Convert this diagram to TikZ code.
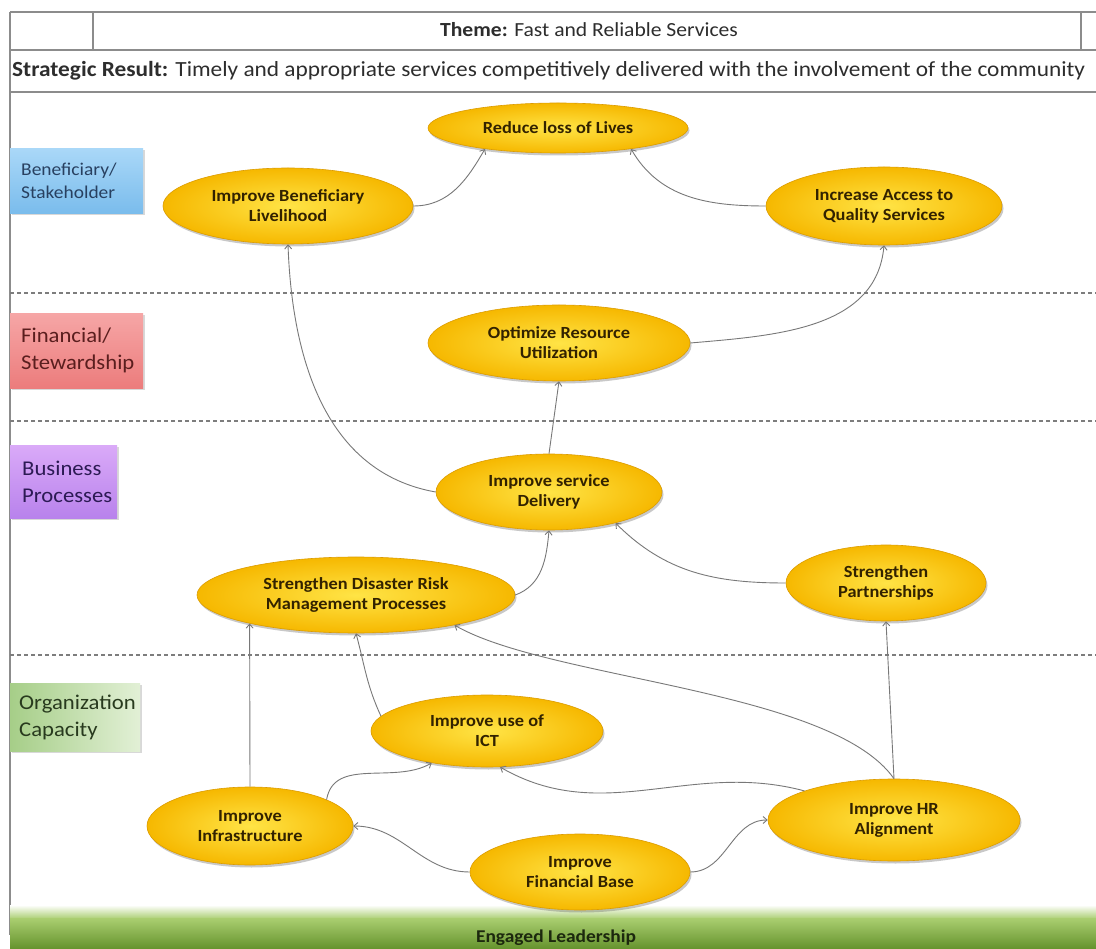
\documentclass[tikz,border=0pt]{standalone}
\usepackage{fontspec}
\setmainfont{Carlito}[FakeStretch=1.08]
\usetikzlibrary{shapes.geometric,arrows.meta,shadows}
\definecolor{goalin}{RGB}{255,228,70}
\definecolor{goalout}{RGB}{246,184,0}
\definecolor{goalrim}{RGB}{220,156,0}
\definecolor{goaltext}{RGB}{50,34,0}
\definecolor{linkgray}{RGB}{120,120,120}
\definecolor{sepgray}{RGB}{125,125,125}
\definecolor{framegray}{RGB}{140,140,140}
\definecolor{hdrtext}{RGB}{45,45,45}
\definecolor{bsTop}{RGB}{170,216,248}
\definecolor{bsBot}{RGB}{122,188,236}
\definecolor{bsText}{RGB}{40,64,96}
\definecolor{fsTop}{RGB}{246,166,166}
\definecolor{fsBot}{RGB}{236,124,124}
\definecolor{fsText}{RGB}{90,30,30}
\definecolor{bpTop}{RGB}{218,170,248}
\definecolor{bpBot}{RGB}{184,130,236}
\definecolor{bpText}{RGB}{44,26,84}
\definecolor{ocLeft}{RGB}{166,206,136}
\definecolor{ocRight}{RGB}{226,240,214}
\definecolor{ocText}{RGB}{40,58,30}
\definecolor{barTop}{RGB}{170,206,112}
\definecolor{barBot}{RGB}{100,146,44}
\definecolor{barText}{RGB}{28,40,14}
\newcommand\goalfont{\bfseries\fontsize{17}{20}\selectfont}
\tikzset{
  goal/.style={ellipse, inner sep=0pt, draw=goalrim, line width=0.6pt,
    shade, inner color=goalin, outer color=goalout,
    drop shadow={shadow xshift=1.5pt, shadow yshift=-2.5pt, opacity=0.3, fill=black!70},
    align=center, text=goaltext, font=\goalfont},
  link/.style={draw=linkgray, line width=0.9pt, -{Straight Barb[length=4pt,width=7pt]}},
  sepline/.style={draw=sepgray, line width=1.1pt, dash pattern=on 4pt off 3pt},
  frame/.style={draw=framegray, line width=1.2pt},
  lblbox/.style={rectangle, inner sep=0pt, anchor=north west, shade,
    drop shadow={shadow xshift=2pt, shadow yshift=-2pt, opacity=0.25, fill=black!60}},
  lbltext/.style={anchor=west, align=left, inner sep=0pt},
}
\begin{document}
\begin{tikzpicture}[x=1pt,y=-1pt]
\useasboundingbox (0,0) rectangle (1096,949);
\fill[white] (0,0) rectangle (1096,949);

% header frame
\draw[frame] (10,12) -- (1096,12);
\draw[frame] (10,50) -- (1096,50);
\draw[frame] (10,92) -- (1096,92);
\draw[frame] (93,12) -- (93,50);
\draw[frame] (1081,12) -- (1081,50);
\draw[frame] (10,12) -- (10,935);
\node[anchor=west, inner sep=0pt, text=hdrtext, font=\fontsize{20}{24}\selectfont] (theme) at (440,30) {\textbf{Theme:} Fast and Reliable Services};
\node[anchor=west, inner sep=0pt, text=hdrtext, font=\fontsize{21.6}{25}\selectfont] (result) at (12,71) {\textbf{Strategic Result:} Timely and appropriate services competitively delivered with the involvement of the community};

% separators
\draw[sepline] (10,293) -- (1096,293);
\draw[sepline] (10,421) -- (1096,421);
\draw[sepline] (10,655) -- (1096,655);

% perspective labels
\node[lblbox, top color=bsTop, bottom color=bsBot, minimum width=133pt, minimum height=65pt] (bsbox) at (10,148) {};
\node[lbltext, text=bsText, font=\fontsize{18}{23}\selectfont] (bs) at ([xshift=11pt]bsbox.west) {Beneficiary/\\Stakeholder};
\node[lblbox, top color=fsTop, bottom color=fsBot, minimum width=133pt, minimum height=75pt] (fsbox) at (10,313) {};
\node[lbltext, text=fsText, font=\fontsize{21}{27}\selectfont] (fs) at ([xshift=11pt]fsbox.west) {Financial/\\Stewardship};
\node[lblbox, top color=bpTop, bottom color=bpBot, minimum width=107pt, minimum height=73pt] (bpbox) at (10,445) {};
\node[lbltext, text=bpText, font=\fontsize{21}{27}\selectfont] (bp) at ([xshift=12pt]bpbox.west) {Business\\Processes};
\node[lblbox, left color=ocLeft, right color=ocRight, minimum width=130pt, minimum height=68pt] (ocbox) at (10,683) {};
\node[lbltext, text=ocText, font=\fontsize{21}{27}\selectfont] (oc) at ([xshift=9pt]ocbox.west) {Organization\\Capacity};

% bottom bar
\shade[top color=white, bottom color=barTop] (10,905) rectangle (1096,919);
\node[rectangle, inner sep=0pt, anchor=north west, minimum width=1086pt, minimum height=31pt, shade, top color=barTop, bottom color=barBot] (barbox) at (10,918) {};
\node[inner sep=0pt, text=barText, font=\bfseries\fontsize{18}{20}\selectfont] (lead) at (556,938) {Engaged Leadership};

% goals
\node[goal, minimum width=260pt, minimum height=50pt] (rl) at (558,128) {Reduce loss of Lives};
\node[goal, minimum width=250pt, minimum height=76pt] (bl) at (288,206) {Improve Beneficiary\\Livelihood};
\node[goal, minimum width=236pt, minimum height=78pt] (ia) at (884,206) {Increase Access to\\Quality Services};
\node[goal, minimum width=262pt, minimum height=76pt] (oru) at (559,343) {Optimize Resource\\Utilization};
\node[goal, minimum width=226pt, minimum height=76pt] (sd) at (549,492) {Improve service\\Delivery};
\node[goal, minimum width=318pt, minimum height=76pt] (dr) at (356,595) {Strengthen Disaster Risk\\Management Processes};
\node[goal, minimum width=200pt, minimum height=76pt] (sp) at (886,583) {Strengthen\\Partnerships};
\node[goal, minimum width=232pt, minimum height=72pt] (ict) at (487,731) {Improve use of\\ICT};
\node[goal, minimum width=206pt, minimum height=78pt] (ii) at (250,826) {Improve\\Infrastructure};
\node[goal, minimum width=220pt, minimum height=76pt] (fb) at (580,872) {Improve\\Financial Base};
\node[goal, minimum width=252pt, minimum height=82pt] (hr) at (894,820) {Improve HR\\Alignment};

% connectors
\draw[link] (bl.east) to[out=0, in=240] (rl.196);
\draw[link] (ia.west) to[out=180, in=300] (rl.344);
\draw[link] (oru.east) to[out=5, in=265] (ia.south);
\draw[link] (sd.west) to[out=170, in=272] (bl.south);
\draw[link] (sd.north) -- (oru.south);
\draw[link] (dr.east) to[out=20, in=265] (sd.south);
\draw[link] (sp.west) to[out=180, in=315] (sd.335);
\draw[link] (ii.north) -- (dr.195);
\draw[link] (ict.172) to[out=115, in=285] (dr.south);
\draw[link] (hr.north) to[out=125, in=330, looseness=0.6] (dr.343);
\draw[link] (hr.north) -- (sp.south);
\draw[link] (hr.162) to[out=165, in=330] (ict.290);
\draw[link] (ii.19) to[out=80, in=210] (ict.210);
\draw[link] (fb.west) to[out=180, in=0] (ii.east);
\draw[link] (fb.east) to[out=0, in=180] (hr.west);
\end{tikzpicture}
\end{document}
